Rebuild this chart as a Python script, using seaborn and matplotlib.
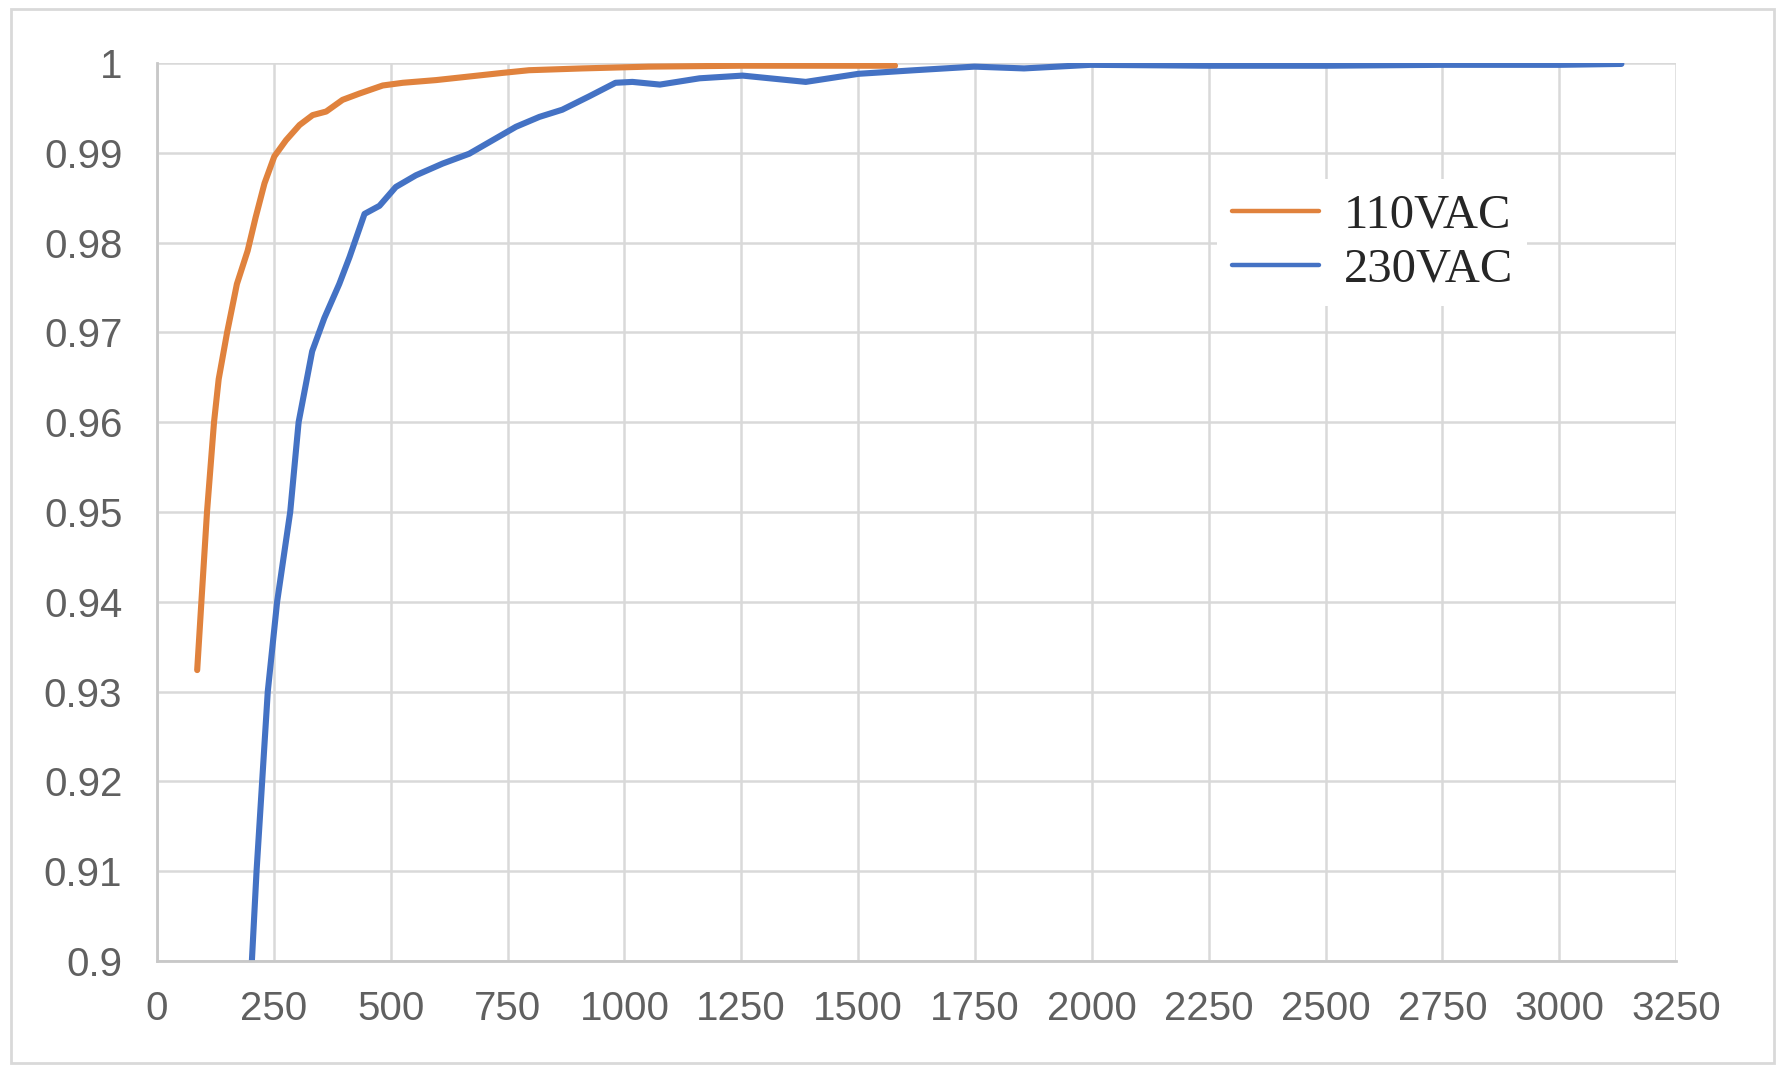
import seaborn as sns
import matplotlib.pyplot as plt
import matplotlib.patches as mpatches
import pandas as pd
import numpy as np

# values
x_110 = [86, 95, 107, 122, 132, 150, 171, 194, 211, 230, 251, 276, 305, 333, 362,
         397, 433, 483, 526, 597, 668, 739, 796, 910, 1053, 1250, 1579]
eff_110 = [0.9324, 0.94, 0.95, 0.96, 0.9648, 0.97, 0.9754, 0.9791, 0.9828, 0.9866,
           0.9896, 0.9914, 0.9931, 0.9942, 0.9946, 0.9959, 0.9966, 0.9975, 0.9978,
           0.9981, 0.9985, 0.9989, 0.9992, 0.9994, 0.9996, 0.9997, 0.9997]

x_230 = [203, 213, 225, 237, 257, 285, 303, 332, 358, 390, 412, 444, 476, 511, 554,
         611, 668, 718, 768, 818, 867, 925, 981, 1017, 1076, 1161, 1253, 1388, 1501,
         1621, 1749, 1855, 1997, 2250, 2500, 2750, 3000, 3133]
eff_230 = [0.9, 0.91, 0.92, 0.93, 0.94, 0.95, 0.96, 0.9679, 0.9716, 0.9754, 0.9784,
           0.9832, 0.9841, 0.9862, 0.9875, 0.9888, 0.9899, 0.9914, 0.9929, 0.994,
           0.9948, 0.9963, 0.9978, 0.9979, 0.9976, 0.9983, 0.9986, 0.9979, 0.9988,
           0.9992, 0.9996, 0.9994, 0.9998, 0.9997, 0.9997, 0.9998, 0.9998, 0.9999]

x_ticks = [0, 250, 500, 750, 1000, 1250, 1500, 1750, 2000, 2250, 2500, 2750, 3000, 3250]
y_ticks = [0.9, 0.91, 0.92, 0.93, 0.94, 0.95, 0.96, 0.97, 0.98, 0.99, 1.0]
y_labels = ["0.9", "0.91", "0.92", "0.93", "0.94", "0.95", "0.96", "0.97", "0.98", "0.99", "1"]

df = pd.concat([
    pd.DataFrame({"x": x_110, "eff": eff_110, "series": "110VAC"}),
    pd.DataFrame({"x": x_230, "eff": eff_230, "series": "230VAC"}),
])

sns.set_theme(style="whitegrid")
plt.rcParams["font.family"] = ["Liberation Sans", "DejaVu Sans"]

fig = plt.figure(figsize=(17.88, 10.72), dpi=100)
ax = fig.add_axes([0.0878, 0.1035, 0.8496, 0.8377])

sns.lineplot(data=df, x="x", y="eff", hue="series", estimator=None, sort=False,
             palette={"110VAC": "#E0823D", "230VAC": "#4472C4"},
             linewidth=4.4, ax=ax)

ax.set_xlim(0, 3250)
ax.set_ylim(0.9, 1.0)
ax.set_xticks(x_ticks)
ax.set_yticks(y_ticks)
ax.set_yticklabels(y_labels)
ax.set_xlabel("")
ax.set_ylabel("")
ax.grid(True, color="#d9d9d9", linewidth=1.8)
ax.set_axisbelow(True)
for side in ["top", "right"]:
    ax.spines[side].set_visible(False)
for side in ["left", "bottom"]:
    ax.spines[side].set_color("#c8c8c8")
    ax.spines[side].set_linewidth(2)
ax.tick_params(axis="y", length=0, pad=25, labelsize=29, labelcolor="#606060")
ax.tick_params(axis="x", length=0, pad=21, labelsize=29, labelcolor="#606060")

leg = ax.legend(loc="center", bbox_to_anchor=(0.80, 0.80), frameon=True,
                prop={"family": "Liberation Serif", "size": 35},
                handlelength=1.8, handletextpad=0.5, labelspacing=0.2,
                borderpad=0.3, fancybox=False)
leg.get_frame().set_facecolor("white")
leg.get_frame().set_edgecolor("none")
leg.get_frame().set_alpha(1)
for line in leg.get_lines():
    line.set_linewidth(3.2)

# light frame around the whole chart
fig.patches.append(mpatches.Rectangle((0.0062, 0.0084), 0.986, 0.983,
                                      transform=fig.transFigure, fill=False,
                                      edgecolor="#d9d9d9", linewidth=2))

fig.savefig("out.png", dpi=100, facecolor="white")
